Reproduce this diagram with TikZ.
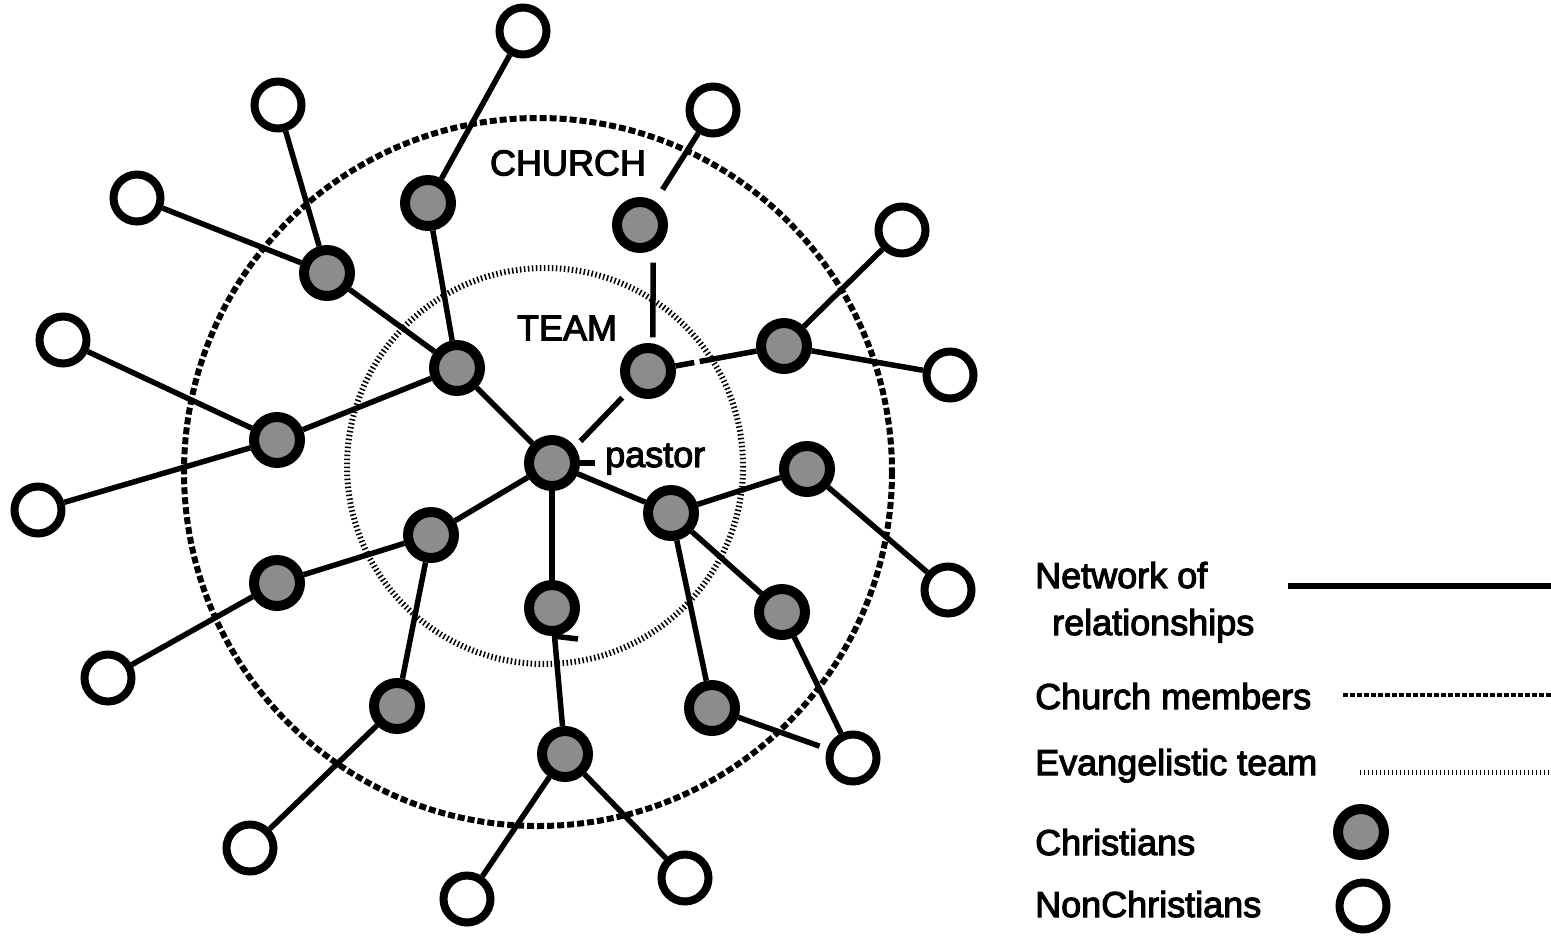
\documentclass[tikz,border=0pt]{standalone}
\usepackage{fontspec}
\setmainfont{Liberation Sans}[FakeBold=3]
\usetikzlibrary{calc}

\begin{document}
\begin{tikzpicture}[ x=1pt, y=-1pt, christian/.style={circle, draw=black,
      fill=black!45, line width=10pt, minimum size=46pt, inner sep=0pt},
      nonchristian/.style={circle, draw=black, fill=white, line width=8pt,
      minimum size=47pt, inner sep=0pt}, link/.style={line width=5.5pt},
      churchline/.style={line width=6pt, dash pattern=on 7pt off 3pt},
      teamline/.style={line width=6pt, dash pattern=on 1.5pt off 2.5pt},
      lbl/.style={font=\fontsize{36pt}{47pt}\selectfont, inner sep=0pt} ]

    \useasboundingbox (0,0) rectangle (1551,935);

    % Church and team rings
    \draw[churchline] (538,472) circle (354);
    \draw[teamline] (545,466) circle (198);

    % Christians
    \node[christian] (P) at (552,463) {}; \node[christian] (A) at (457,368) {};
    \node[christian] (B) at (327,273) {}; \node[christian] (C) at (277,440) {};
    \node[christian] (D) at (428,203) {}; \node[christian] (E) at (640,225) {};
    \node[christian] (F) at (648,371) {}; \node[christian] (G) at (784,346) {};
    \node[christian] (H) at (807,469) {}; \node[christian] (I) at (671,513) {};
    \node[christian] (J) at (431,535) {}; \node[christian] (K) at (277,583) {};
    \node[christian] (L) at (552,608) {}; \node[christian] (M) at (782,612) {};
    \node[christian] (N) at (397,706) {}; \node[christian] (O) at (712,708) {};
    \node[christian] (Q) at (565,754) {};

    % NonChristians
    \node[nonchristian] (o1) at (523,31) {}; \node[nonchristian] (o2) at
    (278,105) {}; \node[nonchristian] (o3) at (137,198) {};
    \node[nonchristian] (o4) at (63,340) {}; \node[nonchristian] (o5) at
    (38,510) {}; \node[nonchristian] (o6) at (108,678) {};
    \node[nonchristian] (o7) at (250,848) {}; \node[nonchristian] (o8) at
    (467,899) {}; \node[nonchristian] (o9) at (685,878) {};
    \node[nonchristian] (o10) at (853,758) {}; \node[nonchristian] (o11) at
    (948,590) {}; \node[nonchristian] (o12) at (950,375) {};
    \node[nonchristian] (o13) at (902,230) {}; \node[nonchristian] (o14) at
    (713,110) {};

    % Network of relationships
    \draw[link] (P) -- (A); \draw[link] (A) -- (B); \draw[link] (B) -- (o2);
    \draw[link] (B) -- (o3); \draw[link] (A) -- (D); \draw[link] (D) -- (o1);
    \draw[link] (A) -- (C); \draw[link] (C) -- (o4); \draw[link] (C) -- (o5);
    \draw[link] (P) -- (J); \draw[link] (J) -- (K); \draw[link] (K) -- (o6);
    \draw[link] (J) -- (N); \draw[link] (N) -- (o7); \draw[link] (P) -- (L);
    \draw[link] (L) -- (Q); \draw[link] (Q) -- (o8); \draw[link] (Q) -- (o9);
    \draw[link] (P) -- (I); \draw[link] (I) -- (H); \draw[link] (H) -- (o11);
    \draw[link] (I) -- (M); \draw[link] (M) -- (o10); \draw[link] (I) -- (O);
    \draw[link, shorten >=8pt] (O) -- (o10); \draw[link] (G) -- (o13);
    \draw[link] (G) -- (o12);

    % Broken links
    \draw[link] (F) -- ($(F)!0.34!(G)$); \draw[link] ($(F)!0.38!(G)$) -- (G);
    \draw[link, shorten <=8pt, shorten >=9pt] (P.35) -- (F.226);
    \draw[link, shorten <=13pt, shorten >=6pt] (E.-62) -- (F.80);
    \draw[link, shorten <=14pt] (E) -- (o14);
    \draw[link] (L.-88) -- ++(25,3);

    % Labels
    \node[lbl] (church) at (568,163) {CHURCH}; \node[lbl] (team) at (567,328)
    {TEAM}; \node[lbl, anchor=base west, inner xsep=10pt] (pastor) at
    (595,467) {pastor}; \draw[link] (P.east) -- (P.east -| pastor.west);

    % Legend
    \node[lbl, anchor=base west] (lnet) at (1035,588) {Network of};
    \node[lbl, anchor=base west] (lrel) at (1052,635) {relationships};
    \node[lbl, anchor=base west] (lchurch) at (1035,709) {Church members};
    \node[lbl, anchor=base west] (lteam) at (1035,775) {Evangelistic team};
    \node[lbl, anchor=base west] (lchr) at (1035,855) {Christians};
    \node[lbl, anchor=base west] (lnon) at (1035,917) {NonChristians};
    \draw[line width=6pt] (1288,586) -- (1551,586);
    \draw[line width=4pt, dash pattern=on 5pt off 2pt] (1343,695) -- (1551,695);
    \draw[line width=5pt, dash pattern=on 1pt off 3pt] (1360,772) -- (1551,772);
    \node[christian] (kchr) at (1361,832) {}; \node[nonchristian] (knon) at
    (1363,906) {};

\end{tikzpicture}
\end{document}
